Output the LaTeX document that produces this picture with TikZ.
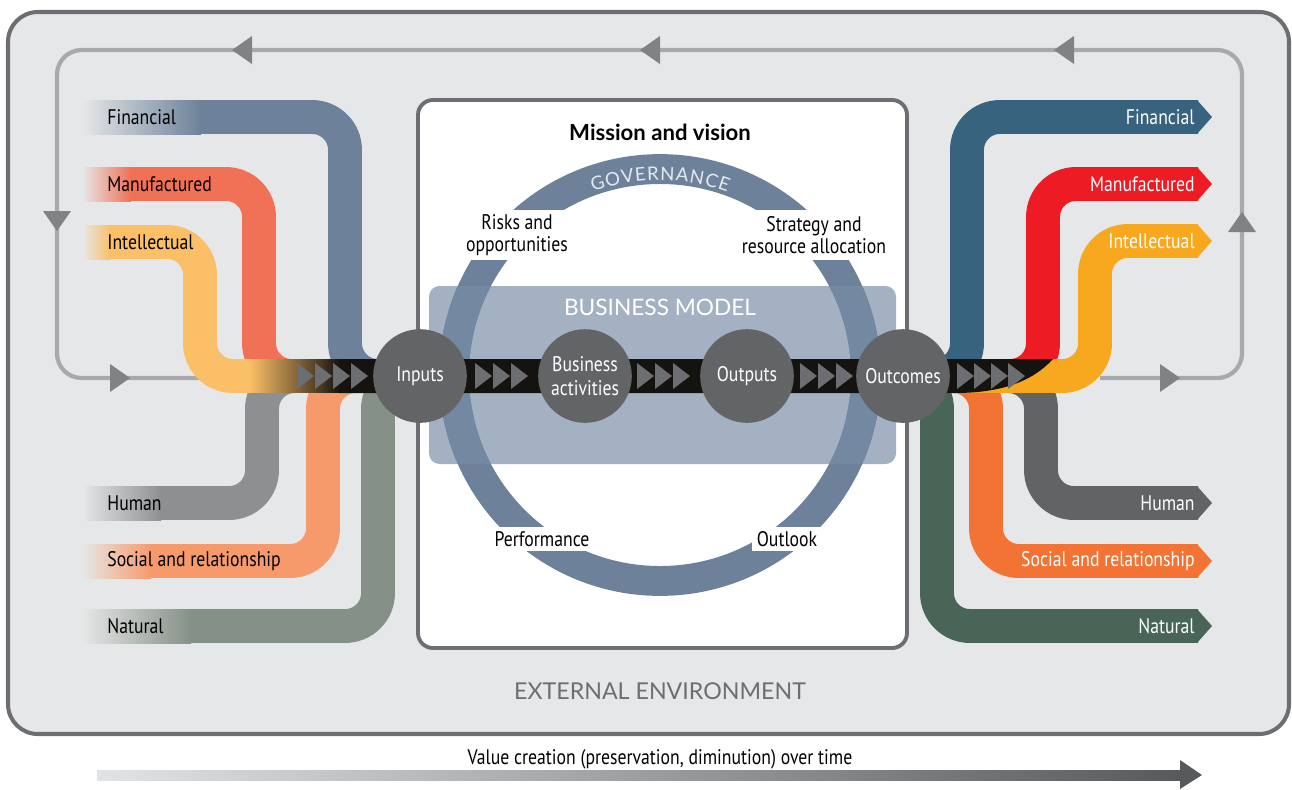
\documentclass[tikz,border=0pt]{standalone}
\usepackage{fontspec}
\setmainfont{PT Sans}[FakeStretch=0.84]
\newfontfamily\headfont{Lato}
\usepackage{tikz}
\usetikzlibrary{shapes.geometric,fadings}
\usepackage{xcolor}

\definecolor{envbg}{HTML}{E6E7E8}
\definecolor{envline}{HTML}{6D6E71}
\definecolor{loopline}{HTML}{A7A9AC}
\definecolor{looptipc}{HTML}{808285}
\definecolor{bmbox}{HTML}{A4B1C2}
\definecolor{ringc}{HTML}{6D829A}
\definecolor{ringin}{HTML}{7289A1}
\definecolor{govtext}{HTML}{E4E9EF}
\definecolor{stagec}{HTML}{636466}
\definecolor{chevc}{HTML}{6D6E71}
\definecolor{bandc}{HTML}{15130F}
\definecolor{timel}{HTML}{E2E3E4}
\definecolor{timer}{HTML}{58595B}
% capitals going in
\definecolor{finL}{HTML}{6D829A}
\definecolor{manL}{HTML}{F07155}
\definecolor{intL}{HTML}{FBBF67}
\definecolor{humL}{HTML}{8D8F91}
\definecolor{socL}{HTML}{F79A6B}
\definecolor{natL}{HTML}{859186}
% capitals coming out
\definecolor{finR}{HTML}{38637F}
\definecolor{manR}{HTML}{ED1C24}
\definecolor{intR}{HTML}{F7A81E}
\definecolor{humR}{HTML}{626365}
\definecolor{socR}{HTML}{F37335}
\definecolor{natR}{HTML}{486557}

\newcommand{\capfont}{\fontsize{12}{12.5}\selectfont}
\newcommand{\titlefont}{\headfont\fontsize{12.9}{14}\selectfont}
\newcommand{\govfont}{\headfont\fontsize{10.6}{11}\selectfont}

\tikzfading[name=fade band, left color=transparent!100, right color=transparent!0]

\begin{document}
\begin{tikzpicture}[x=0.02cm, y=-0.02cm]
\tikzstyle{env} = [draw=envline, line width=2.3pt, fill=envbg, rounded corners=17pt]
\tikzstyle{loop} = [draw=loopline, line width=2.4pt, rounded corners=14pt]
\tikzstyle{looptip} = [fill=looptipc]
\tikzstyle{band} = [line width=19.3pt, rounded corners=18.7pt]
\tikzstyle{capital} = [font=\capfont, inner sep=0pt]
\tikzstyle{stage} = [circle, fill=stagec, text=white, font=\fontsize{12}{13.5}\selectfont,
minimum size=53.3pt, inner sep=0pt, align=center]
\tikzstyle{ringlabel} = [fill=white, font=\capfont, align=center, inner xsep=3pt, inner ysep=0pt]
\tikzstyle{govletter} = [font=\govfont, text=govtext, inner sep=0pt]
\tikzstyle{chevron} = [fill=chevc]

\useasboundingbox (0,0) rectangle (1292,789);

% external environment
\draw[env] (8,12) rectangle (1289,734);
\node[font=\headfont\fontsize{13.2}{14}\selectfont, text=envline] (ext_env) at (660,691) {EXTERNAL ENVIRONMENT};

% feedback loop
\draw[loop] (250,378) -- (57,378) -- (57,50) -- (1242,50) -- (1242,378) -- (1100,378);
\foreach \x/\y/\a in {242/50/180, 650/50/180, 1064/50/180, 57/221/-90, 120/378/0, 1242/222/90, 1170/378/0}
  \fill[looptip, shift={(\x,\y)}, rotate=\a] (10,0) -- (-10,-14) -- (-10,14) -- cycle;

% mission and vision
\draw[draw=envline, line width=2.2pt, fill=white, rounded corners=8.5pt] (418,100) rectangle (907,648);
\node[font=\headfont\bfseries\fontsize{12.6}{14}\selectfont] (mission) at (660,132) {Mission and vision};

% business model
\fill[bmbox, rounded corners=6pt] (429,286) rectangle (896,464);
\node[font=\titlefont, text=white] (bm_title) at (660,307) {BUSINESS MODEL};

% governance ring
\draw[ringc, line width=17pt] (660,375) circle [radius=4.12cm];
\begin{scope}
\clip[rounded corners=6pt] (429,286) rectangle (896,464);
\draw[ringin, line width=17pt] (660,375) circle [radius=4.12cm];
\end{scope}
\foreach \l/\a [count=\i] in {G/108.1, O/103.6, V/99.3, E/95.6, R/92.0, N/87.9, A/83.6, N/79.4, C/75.1, E/71.4}
  \path (660,375) ++(\a:4.03cm) node[govletter, rotate=\a-90] (gov\i) {\l};
\node[ringlabel, minimum height=28.9pt] (risks) at (517,235) {Risks and\\opportunities};
\node[ringlabel, minimum height=28.9pt] (strategy) at (814,235) {Strategy and\\resource allocation};
\node[ringlabel, minimum height=14.2pt] (performance) at (542,539) {Performance};
\node[ringlabel, minimum height=14.2pt] (outlook) at (787,539) {Outlook};

% capitals in
\foreach \c/\y/\x/\f in {natL/626/378/190, socL/561/323/150, humL/503/262/160,
finL/117/345/200, manL/184/259/130, intL/242/200/110} {
  \fill[left color=envbg, right color=\c] (82,\y-17) rectangle (\f+1,\y+17);
  \draw[band, \c] (\f,\y) -- (\x,\y) -- (\x,376) -- (440,376);
}
\node[capital, anchor=west] (fin_in) at (107,117) {Financial};
\node[capital, anchor=west] (man_in) at (107,184) {Manufactured};
\node[capital, anchor=west] (int_in) at (107,242) {Intellectual};
\node[capital, anchor=west] (hum_in) at (107,503) {Human};
\node[capital, anchor=west] (soc_in) at (107,561) {Social and relationship};
\node[capital, anchor=west] (nat_in) at (107,626) {Natural};

% capitals out
\foreach \c/\y/\x in {natR/626/937, socR/561/986, humR/503/1041,
finR/117/967, manR/184/1043, intR/241/1095} {
  \draw[band, \c] (880,376) -- (\x,376) -- (\x,\y) -- (1198,\y);
  \fill[\c] (1197,\y-17) -- (1212,\y) -- (1197,\y+17) -- cycle;
}
\node[capital, text=white, anchor=east] (fin_out) at (1195,117) {Financial};
\node[capital, text=white, anchor=east] (man_out) at (1195,184) {Manufactured};
\node[capital, text=white, anchor=east] (int_out) at (1195,241) {Intellectual};
\node[capital, text=white, anchor=east] (hum_out) at (1195,503) {Human};
\node[capital, text=white, anchor=east] (soc_out) at (1195,561) {Social and relationship};
\node[capital, text=white, anchor=east] (nat_out) at (1195,626) {Natural};

% value creation band
\fill[bandc, path fading=fade band] (250,359) rectangle (340,393);
\fill[bandc] (339,359) -- (1053,359) .. controls (1032,382) and (1000,393) .. (955,393) -- (339,393) -- cycle;
\foreach \x in {297,315,333,351,475,493,511,637,655,673,800,818,836,957,974,991,1008}
  \fill[chevron] (\x,363) -- ++(17,13) -- ++(-17,13) -- cycle;

% stages
\node[stage] (inputs) at (420,376) {Inputs};
\node[stage] (activities) at (585,376) {Business\\activities};
\node[stage] (outputs) at (747,376) {Outputs};
\node[stage] (outcomes) at (903,376) {Outcomes};

% over time
\fill[left color=timel, right color=timer] (97,770) rectangle (1182,780);
\fill[timer] (1180,760) -- (1202,775) -- (1180,789) -- cycle;
\node[font=\capfont] (value) at (660,759) {Value creation (preservation, diminution) over time};

\end{tikzpicture}
\end{document}
